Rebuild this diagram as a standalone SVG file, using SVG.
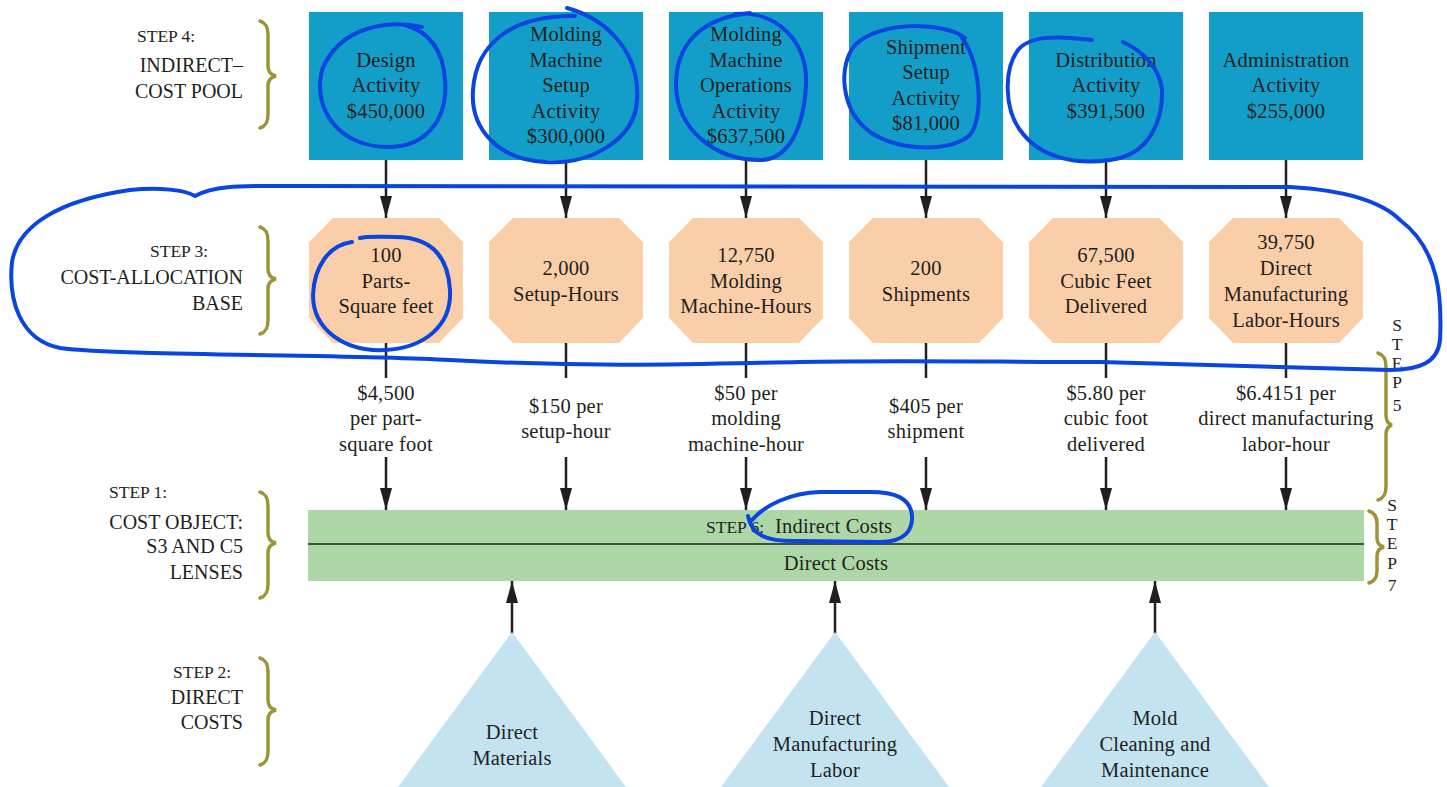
<svg xmlns="http://www.w3.org/2000/svg" width="1447" height="787" viewBox="0 0 1447 787">
<style>
.t{font-family:"Liberation Serif","Times New Roman",serif;font-size:20.5px;fill:#231f20;text-anchor:middle;letter-spacing:0.2px}
.lab{font-family:"Liberation Serif","Times New Roman",serif;font-size:20px;fill:#231f20;text-anchor:end}
.st{font-family:"Liberation Serif","Times New Roman",serif;font-size:17.5px;fill:#231f20;text-anchor:start}
.vs{font-family:"Liberation Serif","Times New Roman",serif;font-size:17.5px;fill:#231f20;text-anchor:middle}
.box{fill:#139ec9}
.oct{fill:#f9cea9}
.tri{fill:#c3e3f1}
.bar{fill:#aed7a8}
.con{stroke:#231f20;stroke-width:2.5;fill:none}
.arr{stroke:#231f20;stroke-width:2.5;fill:none;marker-end:url(#ah)}
.br{stroke:#9c9437;stroke-width:3.5;fill:none;stroke-linecap:round}
.ann{stroke:#0a45e0;stroke-width:4;fill:none;stroke-linecap:round;stroke-linejoin:round}
</style>
<defs>
<marker id="ah" markerUnits="userSpaceOnUse" viewBox="0 0 22 12" markerWidth="22" markerHeight="12" refX="22" refY="6" orient="auto">
<path d="M0,0 L22,6 L0,12 Z" fill="#231f20"/>
</marker>
</defs>
<rect width="1447" height="787" fill="#ffffff"/>

<g id="labels">
<text class="st" x="137" y="42">STEP 4:</text>
<text class="lab" x="243" y="72">INDIRECT–</text>
<text class="lab" x="243" y="98">COST POOL</text>
<text class="st" x="150" y="257">STEP 3:</text>
<text class="lab" x="243" y="284">COST-ALLOCATION</text>
<text class="lab" x="243" y="310">BASE</text>
<text class="st" x="109" y="498">STEP 1:</text>
<text class="lab" x="243" y="529">COST OBJECT:</text>
<text class="lab" x="243" y="553">S3 AND C5</text>
<text class="lab" x="243" y="579">LENSES</text>
<text class="st" x="173" y="678">STEP 2:</text>
<text class="lab" x="243" y="704">DIRECT</text>
<text class="lab" x="243" y="729">COSTS</text>
<text class="vs" x="1397" y="331">S</text>
<text class="vs" x="1397" y="350">T</text>
<text class="vs" x="1397" y="369">E</text>
<text class="vs" x="1397" y="388">P</text>
<text class="vs" x="1397" y="411">5</text>
<text class="vs" x="1392" y="511">S</text>
<text class="vs" x="1392" y="530">T</text>
<text class="vs" x="1392" y="549">E</text>
<text class="vs" x="1392" y="569">P</text>
<text class="vs" x="1392" y="591">7</text>
</g>

<g id="braces">
<path class="br" d="M260,21 C266,23 268,27 268,35 L268,66 C268,72 271,75 276,76 C271,77 268,80 268,86 L268,114 C268,122 266,126 260,128"/>
<path class="br" d="M260,227 C266,229 268,233 268,241 L268,269 C268,275 271,278 276,279 C271,280 268,283 268,289 L268,320 C268,328 266,332 260,334"/>
<path class="br" d="M260,492 C266,494 268,498 268,506 L268,533 C268,539 271,542 276,543 C271,544 268,547 268,553 L268,584 C268,592 266,596 260,598"/>
<path class="br" d="M260,658 C266,660 268,664 268,672 L268,700 C268,706 271,709 276,710 C271,711 268,714 268,720 L268,751 C268,759 266,763 260,765"/>
<path class="br" d="M1378,353 C1384,355 1386,359 1386,367 L1386,415 C1386,421 1388,424 1392,425 C1388,426 1386,429 1386,435 L1386,486 C1386,494 1384,498 1378,500"/>
<path class="br" d="M1369,511 C1375,513 1377,517 1377,523 L1377,538 C1377,543 1380,546 1384,547 C1380,548 1377,551 1377,556 L1377,571 C1377,577 1375,581 1369,583"/>
</g>

<g id="connectors">
<line class="arr" x1="386" y1="160" x2="386" y2="218"/>
<line class="arr" x1="566" y1="160" x2="566" y2="218"/>
<line class="arr" x1="746" y1="160" x2="746" y2="218"/>
<line class="arr" x1="926" y1="160" x2="926" y2="218"/>
<line class="arr" x1="1106" y1="160" x2="1106" y2="218"/>
<line class="arr" x1="1286" y1="160" x2="1286" y2="218"/>
<line class="con" x1="386" y1="343" x2="386" y2="378"/>
<line class="con" x1="566" y1="343" x2="566" y2="378"/>
<line class="con" x1="746" y1="343" x2="746" y2="378"/>
<line class="con" x1="926" y1="343" x2="926" y2="378"/>
<line class="con" x1="1106" y1="343" x2="1106" y2="378"/>
<line class="con" x1="1286" y1="343" x2="1286" y2="378"/>
<line class="arr" x1="386" y1="457" x2="386" y2="510"/>
<line class="arr" x1="566" y1="457" x2="566" y2="510"/>
<line class="arr" x1="746" y1="457" x2="746" y2="510"/>
<line class="arr" x1="926" y1="457" x2="926" y2="510"/>
<line class="arr" x1="1106" y1="457" x2="1106" y2="510"/>
<line class="arr" x1="1286" y1="457" x2="1286" y2="510"/>
<line class="arr" x1="512" y1="634" x2="512" y2="581"/>
<line class="arr" x1="835" y1="634" x2="835" y2="581"/>
<line class="arr" x1="1155" y1="634" x2="1155" y2="581"/>
</g>

<g id="rates">
<text class="t" x="386"><tspan x="386" y="400">$4,500</tspan><tspan x="386" y="425">per part-</tspan><tspan x="386" y="451">square foot</tspan></text>
<text class="t" x="566"><tspan x="566" y="413">$150 per</tspan><tspan x="566" y="438">setup-hour</tspan></text>
<text class="t" x="746"><tspan x="746" y="400">$50 per</tspan><tspan x="746" y="425">molding</tspan><tspan x="746" y="451">machine-hour</tspan></text>
<text class="t" x="926"><tspan x="926" y="413">$405 per</tspan><tspan x="926" y="438">shipment</tspan></text>
<text class="t" x="1106"><tspan x="1106" y="400">$5.80 per</tspan><tspan x="1106" y="425">cubic foot</tspan><tspan x="1106" y="451">delivered</tspan></text>
<text class="t" x="1286"><tspan x="1286" y="400">$6.4151 per</tspan><tspan x="1286" y="425">direct manufacturing</tspan><tspan x="1286" y="451">labor-hour</tspan></text>
</g>

<g id="pool-design"><rect class="box" x="309" y="12" width="154" height="148"/>
<text class="t"><tspan x="386" y="67">Design</tspan><tspan x="386" y="92">Activity</tspan><tspan x="386" y="118">$450,000</tspan></text></g>
<g id="pool-setup"><rect class="box" x="489" y="12" width="154" height="148"/>
<text class="t"><tspan x="566" y="41">Molding</tspan><tspan x="566" y="66.5">Machine</tspan><tspan x="566" y="92">Setup</tspan><tspan x="566" y="117.5">Activity</tspan><tspan x="566" y="143">$300,000</tspan></text></g>
<g id="pool-operations"><rect class="box" x="669" y="12" width="154" height="148"/>
<text class="t"><tspan x="746" y="41">Molding</tspan><tspan x="746" y="66.5">Machine</tspan><tspan x="746" y="92">Operations</tspan><tspan x="746" y="117.5">Activity</tspan><tspan x="746" y="143">$637,500</tspan></text></g>
<g id="pool-shipment"><rect class="box" x="849" y="12" width="154" height="148"/>
<text class="t"><tspan x="926" y="54">Shipment</tspan><tspan x="926" y="79">Setup</tspan><tspan x="926" y="105">Activity</tspan><tspan x="926" y="130">$81,000</tspan></text></g>
<g id="pool-distribution"><rect class="box" x="1029" y="12" width="154" height="148"/>
<text class="t"><tspan x="1106" y="67">Distribution</tspan><tspan x="1106" y="92">Activity</tspan><tspan x="1106" y="118">$391,500</tspan></text></g>
<g id="pool-admin"><rect class="box" x="1209" y="12" width="154" height="148"/>
<text class="t"><tspan x="1286" y="67">Administration</tspan><tspan x="1286" y="92">Activity</tspan><tspan x="1286" y="118">$255,000</tspan></text></g>

<g id="base-parts"><polygon class="oct" points="333,218 439,218 463,242 463,318 439,343 333,343 309,318 309,242"/>
<text class="t"><tspan x="386" y="262">100</tspan><tspan x="386" y="288">Parts-</tspan><tspan x="386" y="313">Square feet</tspan></text></g>
<g id="base-setup"><polygon class="oct" points="513,218 619,218 643,242 643,318 619,343 513,343 489,318 489,242"/>
<text class="t"><tspan x="566" y="275">2,000</tspan><tspan x="566" y="301">Setup-Hours</tspan></text></g>
<g id="base-machine"><polygon class="oct" points="693,218 799,218 823,242 823,318 799,343 693,343 669,318 669,242"/>
<text class="t"><tspan x="746" y="262">12,750</tspan><tspan x="746" y="288">Molding</tspan><tspan x="746" y="313">Machine-Hours</tspan></text></g>
<g id="base-shipments"><polygon class="oct" points="873,218 979,218 1003,242 1003,318 979,343 873,343 849,318 849,242"/>
<text class="t"><tspan x="926" y="275">200</tspan><tspan x="926" y="301">Shipments</tspan></text></g>
<g id="base-cubic"><polygon class="oct" points="1053,218 1159,218 1183,242 1183,318 1159,343 1053,343 1029,318 1029,242"/>
<text class="t"><tspan x="1106" y="262">67,500</tspan><tspan x="1106" y="288">Cubic Feet</tspan><tspan x="1106" y="313">Delivered</tspan></text></g>
<g id="base-labor"><polygon class="oct" points="1233,218 1339,218 1363,242 1363,318 1339,343 1233,343 1209,318 1209,242"/>
<text class="t"><tspan x="1286" y="249">39,750</tspan><tspan x="1286" y="275">Direct</tspan><tspan x="1286" y="301">Manufacturing</tspan><tspan x="1286" y="327">Labor-Hours</tspan></text></g>

<g id="cost-object">
<rect class="bar" x="308" y="510" width="1056" height="71"/>
<line x1="308" y1="544" x2="1364" y2="544" stroke="#231f20" stroke-width="1.5"/>
<text class="st" x="706" y="533">STEP 6:<tspan class="t" x="775" y="533" style="text-anchor:start">Indirect Costs</tspan></text>
<text class="t" x="836" y="570">Direct Costs</text>
</g>

<g id="direct-materials"><polygon class="tri" points="512,632 626,787 398,787"/>
<text class="t"><tspan x="512" y="739">Direct</tspan><tspan x="512" y="765">Materials</tspan></text></g>
<g id="direct-labor"><polygon class="tri" points="835,632 949,787 721,787"/>
<text class="t"><tspan x="835" y="725">Direct</tspan><tspan x="835" y="751">Manufacturing</tspan><tspan x="835" y="777">Labor</tspan></text></g>
<g id="mold-cleaning"><polygon class="tri" points="1155,632 1269,787 1041,787"/>
<text class="t"><tspan x="1155" y="725">Mold</tspan><tspan x="1155" y="751">Cleaning and</tspan><tspan x="1155" y="777">Maintenance</tspan></text></g>

<g id="annotations">
<path class="ann" d="M422,27 C390,20 340,25 322,70 C312,110 340,148 390,147 C430,146 448,115 445,80 C443,50 430,32 405,25"/>
<path class="ann" d="M567,8 C610,20 640,55 637,100 C635,140 590,165 545,162 C500,160 470,130 473,90 C476,45 510,15 575,16"/>
<path class="ann" d="M735,14 C775,10 808,40 806,85 C804,125 790,160 760,160 C715,160 677,130 676,85 C676,45 700,18 750,13"/>
<path class="ann" d="M965,38 C945,22 880,20 855,45 C838,65 840,110 870,132 C900,152 950,152 970,135 C985,115 980,60 960,35"/>
<path class="ann" d="M1092,40 C1060,36 1030,35 1018,50 C1003,70 1005,110 1020,130 C1040,158 1075,165 1110,160 C1150,155 1163,120 1162,90 C1160,70 1145,52 1123,42"/>
<path class="ann" d="M195,196 C215,185 240,186 290,186 L1290,187 C1340,190 1380,200 1400,220 C1440,250 1442,300 1440,340 C1438,362 1420,370 1390,370 L1100,362 C1000,362 900,360 800,362 C700,364 600,368 450,360 C350,354 120,356 60,348 C20,340 8,300 12,262 C18,225 60,200 130,190 C160,187 185,190 195,196"/>
<path class="ann" d="M352,242 C328,245 314,268 313,295 C313,330 345,352 385,350 C425,348 452,325 450,290 C448,255 430,237 395,237 C380,237 368,236 360,238"/>
<path class="ann" d="M748,516 C752,535 765,542 800,541 L880,542 C905,542 913,530 912,515 C910,498 895,492 870,492 L820,492 C790,493 765,505 752,520"/>
</g>
</svg>
